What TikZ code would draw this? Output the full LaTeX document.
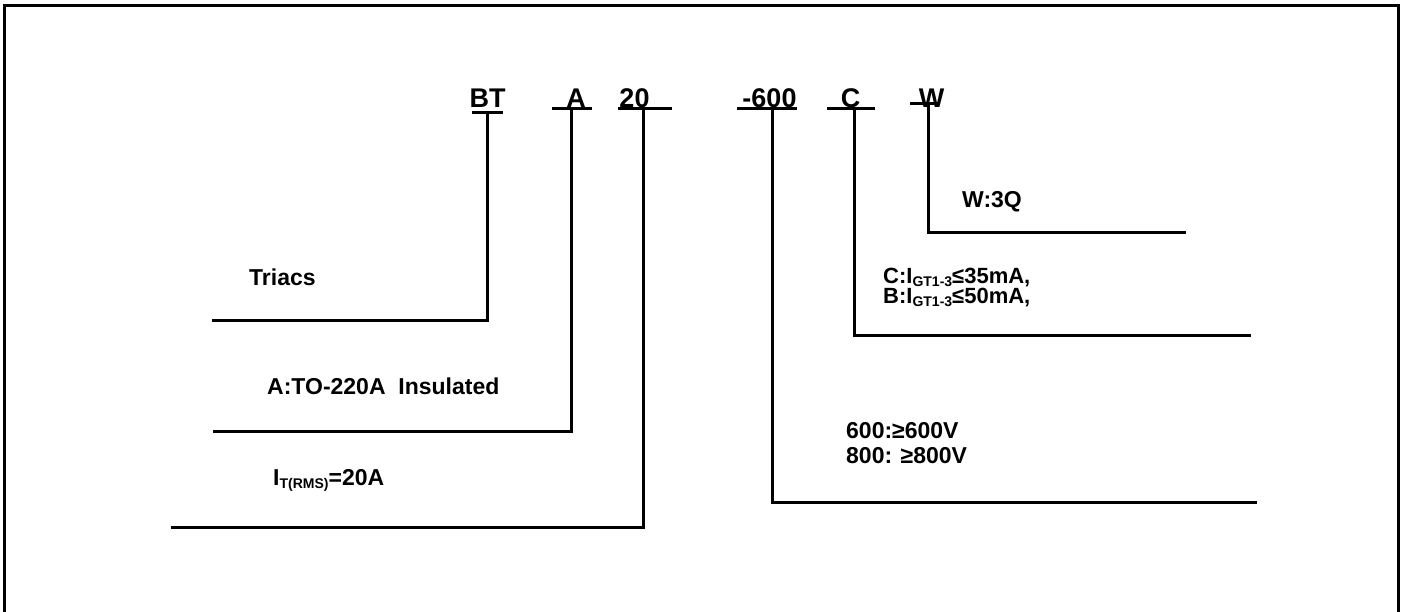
\documentclass[tikz,border=0pt]{standalone}
\usepackage{fontspec}
\setmainfont{Liberation Sans}
\newcommand{\sbx}[1]{\raisebox{-3pt}{\fontsize{14}{14}\selectfont #1}}
\begin{document}
\begin{tikzpicture}[x=1pt,y=-1pt,
  code/.style={font=\fontsize{27}{27}\selectfont\bfseries, inner sep=0pt, anchor=base},
  lab/.style={font=\fontsize{23}{23}\selectfont\bfseries, inner sep=0pt, anchor=base west},
  wire/.style={line width=3pt}]
\useasboundingbox (0,0) rectangle (1405,611);
% frame (open at the bottom)
\draw[wire] (4,625) -- (4,5) -- (1398,5) -- (1398,625);

% code letters
\node[code] (bt) at (487.5,107) {BT};
\node[code] (a) at (576,107) {A};
\node[code] (n20) at (634.5,107) {20};
\node[code] (v600) at (769.5,107) {-600};
\node[code] (c) at (850.5,107) {C};
\node[code] (w) at (931.5,107) {W};

% bars
\coordinate (btL) at (472,112);  \coordinate (btR) at (503,112);  \coordinate (btT) at (487,112);
\coordinate (aL) at (552,108);   \coordinate (aR) at (592,108);   \coordinate (aT) at (571,108);
\coordinate (nL) at (618,108);   \coordinate (nR) at (672,108);   \coordinate (nT) at (643,108);
\coordinate (vL) at (737,108);   \coordinate (vR) at (797,108);   \coordinate (vT) at (772,108);
\coordinate (cL) at (827,108);   \coordinate (cR) at (875,108);   \coordinate (cT) at (854,108);
\coordinate (wL) at (910,103);   \coordinate (wR) at (940,103);   \coordinate (wT) at (928,103);
\foreach \p in {bt,a,n,v,c,w} \draw[wire] (\p L) -- (\p R);

% line ends
\coordinate (btE) at (212,320);
\coordinate (aE) at (213,431);
\coordinate (nE) at (171,527);
\coordinate (vE) at (1257,502);
\coordinate (cE) at (1251,335);
\coordinate (wE) at (1186,232);
\foreach \p in {bt,a,n,v,c,w} \draw[wire] (\p T) |- (\p E);

% labels
\node[lab] (ltri) at (249,285) {Triacs};
\node[lab] (lpkg) at (267,394) {A:TO-220A\ \ Insulated};
\node[lab] (lcur) at (273,485) {I\sbx{T(RMS)}=20A};
\node[lab] (lw) at (962,207) {W:3Q};
\node[lab, align=left, font=\fontsize{22}{18.5}\selectfont\bfseries] (lc) at (883,303.5)
  {C:I\sbx{GT1-3}≤35mA,\\B:I\sbx{GT1-3}≤50mA,};
\node[lab, align=left, font=\fontsize{23}{25}\selectfont\bfseries] (lv) at (846,463)
  {600:≥600V\\800: ≥800V};
\end{tikzpicture}
\end{document}
